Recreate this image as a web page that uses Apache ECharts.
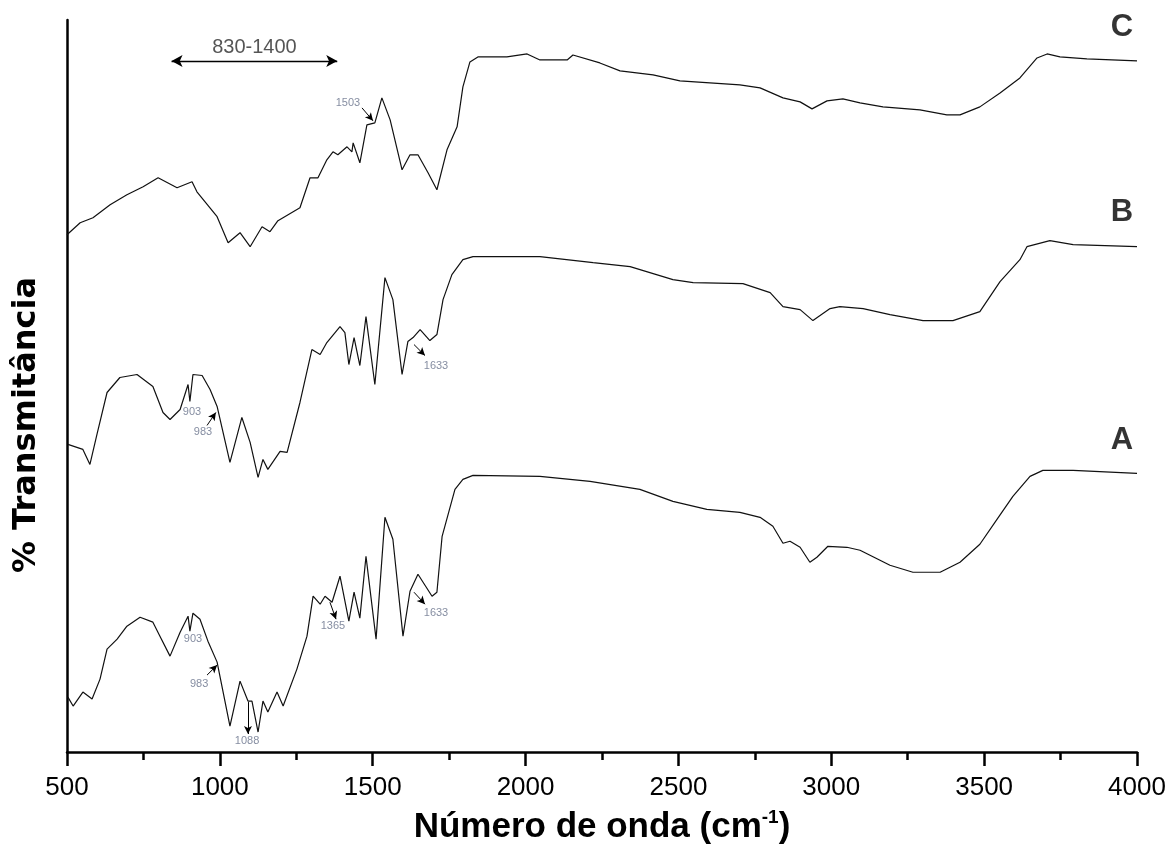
<!DOCTYPE html>
<html>
<head>
<meta charset="utf-8">
<script src="https://cdn.jsdelivr.net/npm/echarts@6/dist/echarts.min.js"></script>
<style>html,body{margin:0;padding:0;background:#fff;}#c{width:1169px;height:850px;}</style>
</head>
<body>
<div id="c"></div>
<script>
// Wavenumber (cm-1) and offset transmittance (arbitrary units)
const wnC = [500,543,585,641,696,749,798,860,909,925,991,1027,1066,1099,1138,1164,1190,1262,1295,1321,1350,1370,1386,1416,1432,1436,1458,1481,1507,1530,1557,1596,1622,1648,1681,1710,1743,1776,1795,1818,1844,1861,1939,2005,2047,2136,2155,2243,2309,2417,2505,2603,2701,2767,2842,2898,2937,2986,3038,3094,3169,3290,3378,3421,3486,3552,3617,3673,3706,3748,3836,4000];
const tC  = [51.8,53.0,53.5,54.8,55.8,56.6,57.5,56.5,57.1,56.1,53.6,51.0,52.0,50.6,52.6,52.1,53.2,54.5,57.5,57.5,59.3,60.1,59.8,60.6,60.1,61.0,59.0,62.8,63.0,65.5,63.3,58.3,59.8,59.8,58.0,56.3,60.3,62.6,66.6,69.1,69.6,69.6,69.6,69.9,69.3,69.3,69.8,69.0,68.2,67.8,67.2,67.0,66.8,66.5,65.5,65.1,64.4,65.2,65.4,65.0,64.6,64.3,63.8,63.8,64.6,66.0,67.5,69.5,69.9,69.6,69.4,69.2];

const wnB = [503,552,575,598,631,673,729,781,814,837,870,896,902,912,942,968,991,1033,1072,1099,1125,1141,1157,1197,1220,1262,1301,1328,1350,1393,1409,1422,1439,1458,1478,1507,1540,1566,1596,1615,1632,1655,1687,1710,1730,1759,1795,1828,2047,2221,2342,2482,2548,2711,2800,2842,2898,2940,2996,3028,3104,3192,3300,3398,3486,3552,3617,3640,3715,3791,4000];
const tB  = [30.8,30.3,28.8,31.8,36.0,37.5,37.8,36.6,34.0,33.3,34.3,36.8,35.1,37.8,37.7,36.3,34.6,29.0,33.5,31.0,27.5,29.3,28.3,30.1,30.0,35.0,40.3,39.8,41.0,42.6,42.0,38.8,41.5,38.7,43.6,36.8,47.5,45.3,37.8,41.1,41.5,42.3,41.2,41.8,45.3,47.8,49.3,49.6,49.6,49.0,48.6,47.3,47.0,46.9,46.0,44.6,44.3,43.2,44.4,44.6,44.4,43.8,43.2,43.2,44.1,47.1,49.3,50.6,51.2,50.8,50.6];

const wnA = [503,520,552,582,608,631,664,696,739,781,804,837,870,896,902,912,935,961,991,1033,1066,1092,1105,1125,1141,1157,1187,1207,1252,1285,1305,1328,1344,1367,1393,1422,1439,1458,1478,1511,1540,1566,1599,1622,1648,1694,1710,1727,1769,1795,1828,2047,2211,2374,2482,2593,2701,2767,2809,2842,2865,2898,2930,2953,2989,3051,3094,3192,3267,3356,3421,3486,3542,3594,3650,3692,3791,4000];
const tA  = [5.5,4.6,6.0,5.3,7.3,10.3,11.3,12.6,13.5,13.0,11.6,9.6,12.0,13.6,12.1,13.9,13.3,11.1,9.0,2.6,7.1,5.1,5.1,2.0,5.1,4.0,6.0,4.6,8.3,11.6,15.6,14.8,15.6,15.0,17.6,13.1,16.0,13.4,19.6,11.3,23.5,21.3,11.6,16.1,17.8,15.6,16.0,21.6,26.3,27.3,27.7,27.6,27.1,26.3,25.1,24.3,24.0,23.5,22.6,20.9,21.1,20.5,19.0,19.5,20.6,20.5,20.2,18.7,18.0,18.0,19.0,20.8,23.3,25.6,27.6,28.2,28.2,27.9];

// Curve labels
const curveNames = ['A','B','C'];
const curveLabelX = [3951,3951,3951];
const curveLabelY = [31.2,54.0,72.6];

// Band annotations
const annoText = ['1503','903','983','1633','903','983','1088','1365','1633'];
const annoX = [1419,909,945,1707,912,932,1089,1370,1707];
const annoY = [65.0,34.0,32.0,38.7,11.3,6.8,1.1,12.6,13.9];
// Arrows (from -> to)
const arrFromX = [1465,958,1635,958,1092,1360,1635];
const arrFromY = [64.5,32.7,40.8,7.7,5.0,15.0,16.0];
const arrToX   = [1501,987,1671,991,1092,1380,1671];
const arrToY   = [63.2,34.0,39.7,8.7,1.8,13.3,14.8];
// Range arrow (double-headed) and its text
const rangeText = '830-1400';
const rangeX = [842,1384];
const rangeY = 69.2;
const rangeTextY = 70.5;

const xTicks = [500,1000,1500,2000,2500,3000,3500,4000];

function zip(a,b){return a.map((v,i)=>[v,b[i]]);}

const chart = echarts.init(document.getElementById('c'));
const FONT = '"Liberation Sans", Arial, sans-serif';

const arrowLines = arrFromX.map((x,i)=>[{coord:[x,arrFromY[i]]},{coord:[arrToX[i],arrToY[i]]}]);
const lineStyle = {color:'#111',width:1.2};

chart.setOption({
  animation:false,
  backgroundColor:'#fff',
  grid:{left:67,right:32,top:20,bottom:97,containLabel:false},
  xAxis:{
    type:'value',min:500,max:4000,interval:500,
    axisLine:{show:true,lineStyle:{color:'#000',width:2.5}},
    axisTick:{show:true,length:14,lineStyle:{color:'#000',width:2.5}},
    minorTick:{show:true,splitNumber:2,length:8,lineStyle:{color:'#000',width:2.5}},
    splitLine:{show:false},
    axisLabel:{color:'#000',fontSize:26,fontFamily:FONT,margin:23,
      formatter:v=>xTicks.includes(v)?String(v):''},
    name:'{t|Número de onda (cm}{s|-1}{t|)}',
    nameLocation:'middle',nameGap:56,
    nameTextStyle:{rich:{
      t:{fontSize:35,fontWeight:'bold',fontFamily:FONT,color:'#000',verticalAlign:'bottom'},
      s:{fontSize:19,fontWeight:'bold',fontFamily:FONT,color:'#000',verticalAlign:'top',padding:[0,0,18,0]}
    }}
  },
  yAxis:{
    type:'value',min:0,max:73.3,
    axisLine:{show:true,lineStyle:{color:'#000',width:2.5}},
    axisTick:{show:false},axisLabel:{show:false},splitLine:{show:false}
  },
  graphic:[{
    type:'text',rotation:Math.PI/2,x:27,y:425,
    style:{text:'% Transmitância',font:'bold 32px "DejaVu Sans", sans-serif',fill:'#000',
      align:'center',verticalAlign:'middle'}
  }],
  series:[
    {type:'line',name:'A',data:zip(wnA,tA),showSymbol:false,symbol:'none',lineStyle,silent:true},
    {type:'line',name:'B',data:zip(wnB,tB),showSymbol:false,symbol:'none',lineStyle,silent:true},
    {type:'line',name:'C',data:zip(wnC,tC),showSymbol:false,symbol:'none',lineStyle,silent:true},
    {type:'scatter',symbolSize:0,silent:true,
      data:curveNames.map((n,i)=>({value:[curveLabelX[i],curveLabelY[i]],name:n})),
      label:{show:true,position:'inside',formatter:p=>p.name,fontSize:31,fontWeight:'bold',fontFamily:FONT,color:'#000'}},
    {type:'scatter',symbolSize:0,silent:true,
      data:[{value:[(rangeX[0]+rangeX[1])/2,rangeTextY],name:rangeText}],
      label:{show:true,position:'inside',formatter:p=>p.name,fontSize:20,fontFamily:FONT,color:'#2a2a2a'},
      markLine:{silent:true,symbol:['arrow','arrow'],symbolSize:[9,11],
        lineStyle:{color:'#000',width:1.3,type:'solid'},label:{show:false},
        data:[[{coord:[rangeX[0],rangeY]},{coord:[rangeX[1],rangeY]}]]}
    },
    {type:'scatter',symbolSize:0,silent:true,
      data:annoText.map((t,i)=>({value:[annoX[i],annoY[i]],name:t})),
      label:{show:true,position:'inside',formatter:p=>p.name,fontFamily:FONT,color:'#66708a',fontSize:11},
      markLine:{silent:true,symbol:['none','arrow'],symbolSize:[6,8],
        lineStyle:{color:'#000',width:1,type:'solid'},label:{show:false},
        data:arrowLines}
    }
  ]
});
</script>
</body>
</html>
